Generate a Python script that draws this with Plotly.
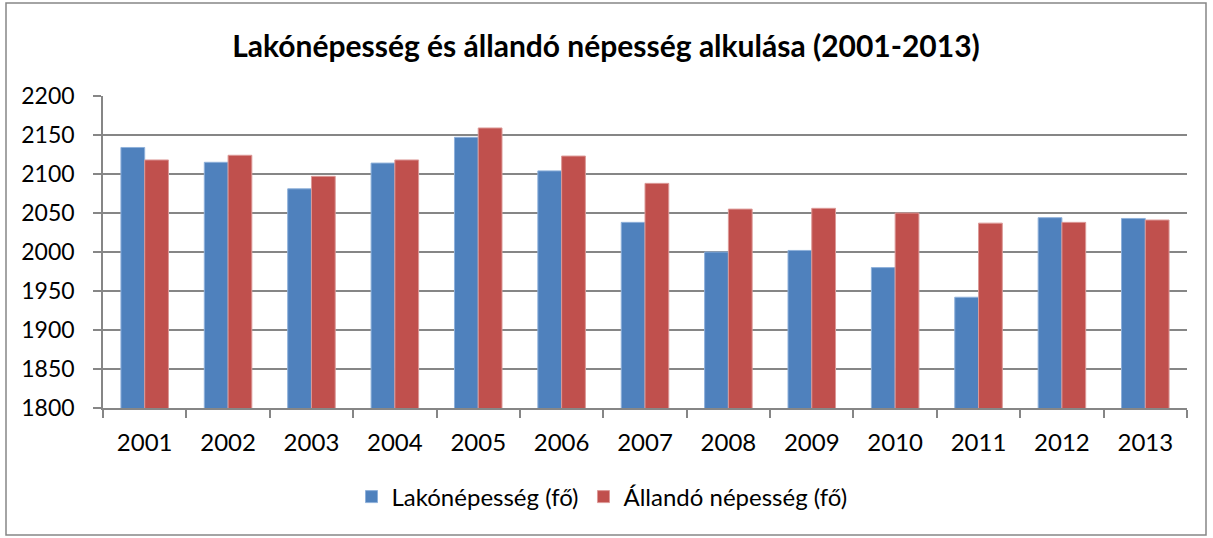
import plotly.graph_objects as go

years = ["2001", "2002", "2003", "2004", "2005", "2006", "2007", "2008", "2009", "2010", "2011", "2012", "2013"]
lakonepesseg = [2134, 2115, 2081, 2114, 2147, 2104, 2038, 2000, 2002, 1980, 1942, 2044, 2043]
allando = [2118, 2124, 2097, 2118, 2159, 2123, 2088, 2055, 2056, 2050, 2037, 2038, 2041]

FONT = "Lato, 'Open Sans', Arial, sans-serif"
W, H = 1213, 538
L, R, T, B = 103, 1187, 96, 408
PW, PH = R - L, B - T

fig = go.Figure()
fig.add_trace(go.Bar(x=years, y=lakonepesseg, name="Lakónépesség (fő)",
                     marker=dict(color="#4F81BD", line=dict(color="#8EB0DA", width=1))))
fig.add_trace(go.Bar(x=years, y=allando, name="Állandó népesség (fő)",
                     marker=dict(color="#C0504D", line=dict(color="#DC9997", width=1))))

fig.update_layout(
    width=W, height=H,
    margin=dict(l=L, r=W - R, t=T, b=H - B, pad=0),
    paper_bgcolor="white", plot_bgcolor="white",
    barmode="group", bargap=0.43, bargroupgap=0,
    font=dict(family=FONT, size=23, color="black"),
    title=dict(text="<b>Lakónépesség és állandó népesség alkulása (2001-2013)</b>",
               x=(606 - 0) / W, xanchor="center", xref="container", y=1 - 46 / H, yanchor="middle",
               font=dict(family=FONT, size=30, color="black")),
    legend=dict(orientation="h", x=(602 - L) / PW, xanchor="center", y=(B - 497) / PH, yanchor="middle",
                font=dict(family=FONT, size=24), traceorder="normal", itemwidth=30),
    showlegend=True,
)
fig.update_yaxes(range=[1800, 2200], dtick=50, showgrid=True, gridcolor="#868686", gridwidth=1.5,
                 showline=True, linecolor="#868686", linewidth=1.5, ticks="outside", ticklen=8,
                 tickcolor="#868686", tickwidth=1.5, zeroline=False, ticklabelstandoff=14,
                 tickfont=dict(size=23))
fig.update_xaxes(type="category", showline=True, linecolor="#868686", linewidth=1.5,
                 ticks="outside", ticklen=8, tickcolor="#868686", tickwidth=1.5, tickson="boundaries",
                 showgrid=False, ticklabelstandoff=12, tickfont=dict(size=24))

fig.add_shape(type="rect", xref="paper", yref="paper",
              x0=(6 - L) / PW, x1=(1206 - L) / PW,
              y0=(B - 535) / PH, y1=(B - 3) / PH,
              line=dict(color="#868686", width=1.5), fillcolor="rgba(0,0,0,0)", layer="below")

fig.write_html("out.html", config={"displayModeBar": False},
               post_script="document.body.style.margin='0';document.body.style.overflow='hidden';")
